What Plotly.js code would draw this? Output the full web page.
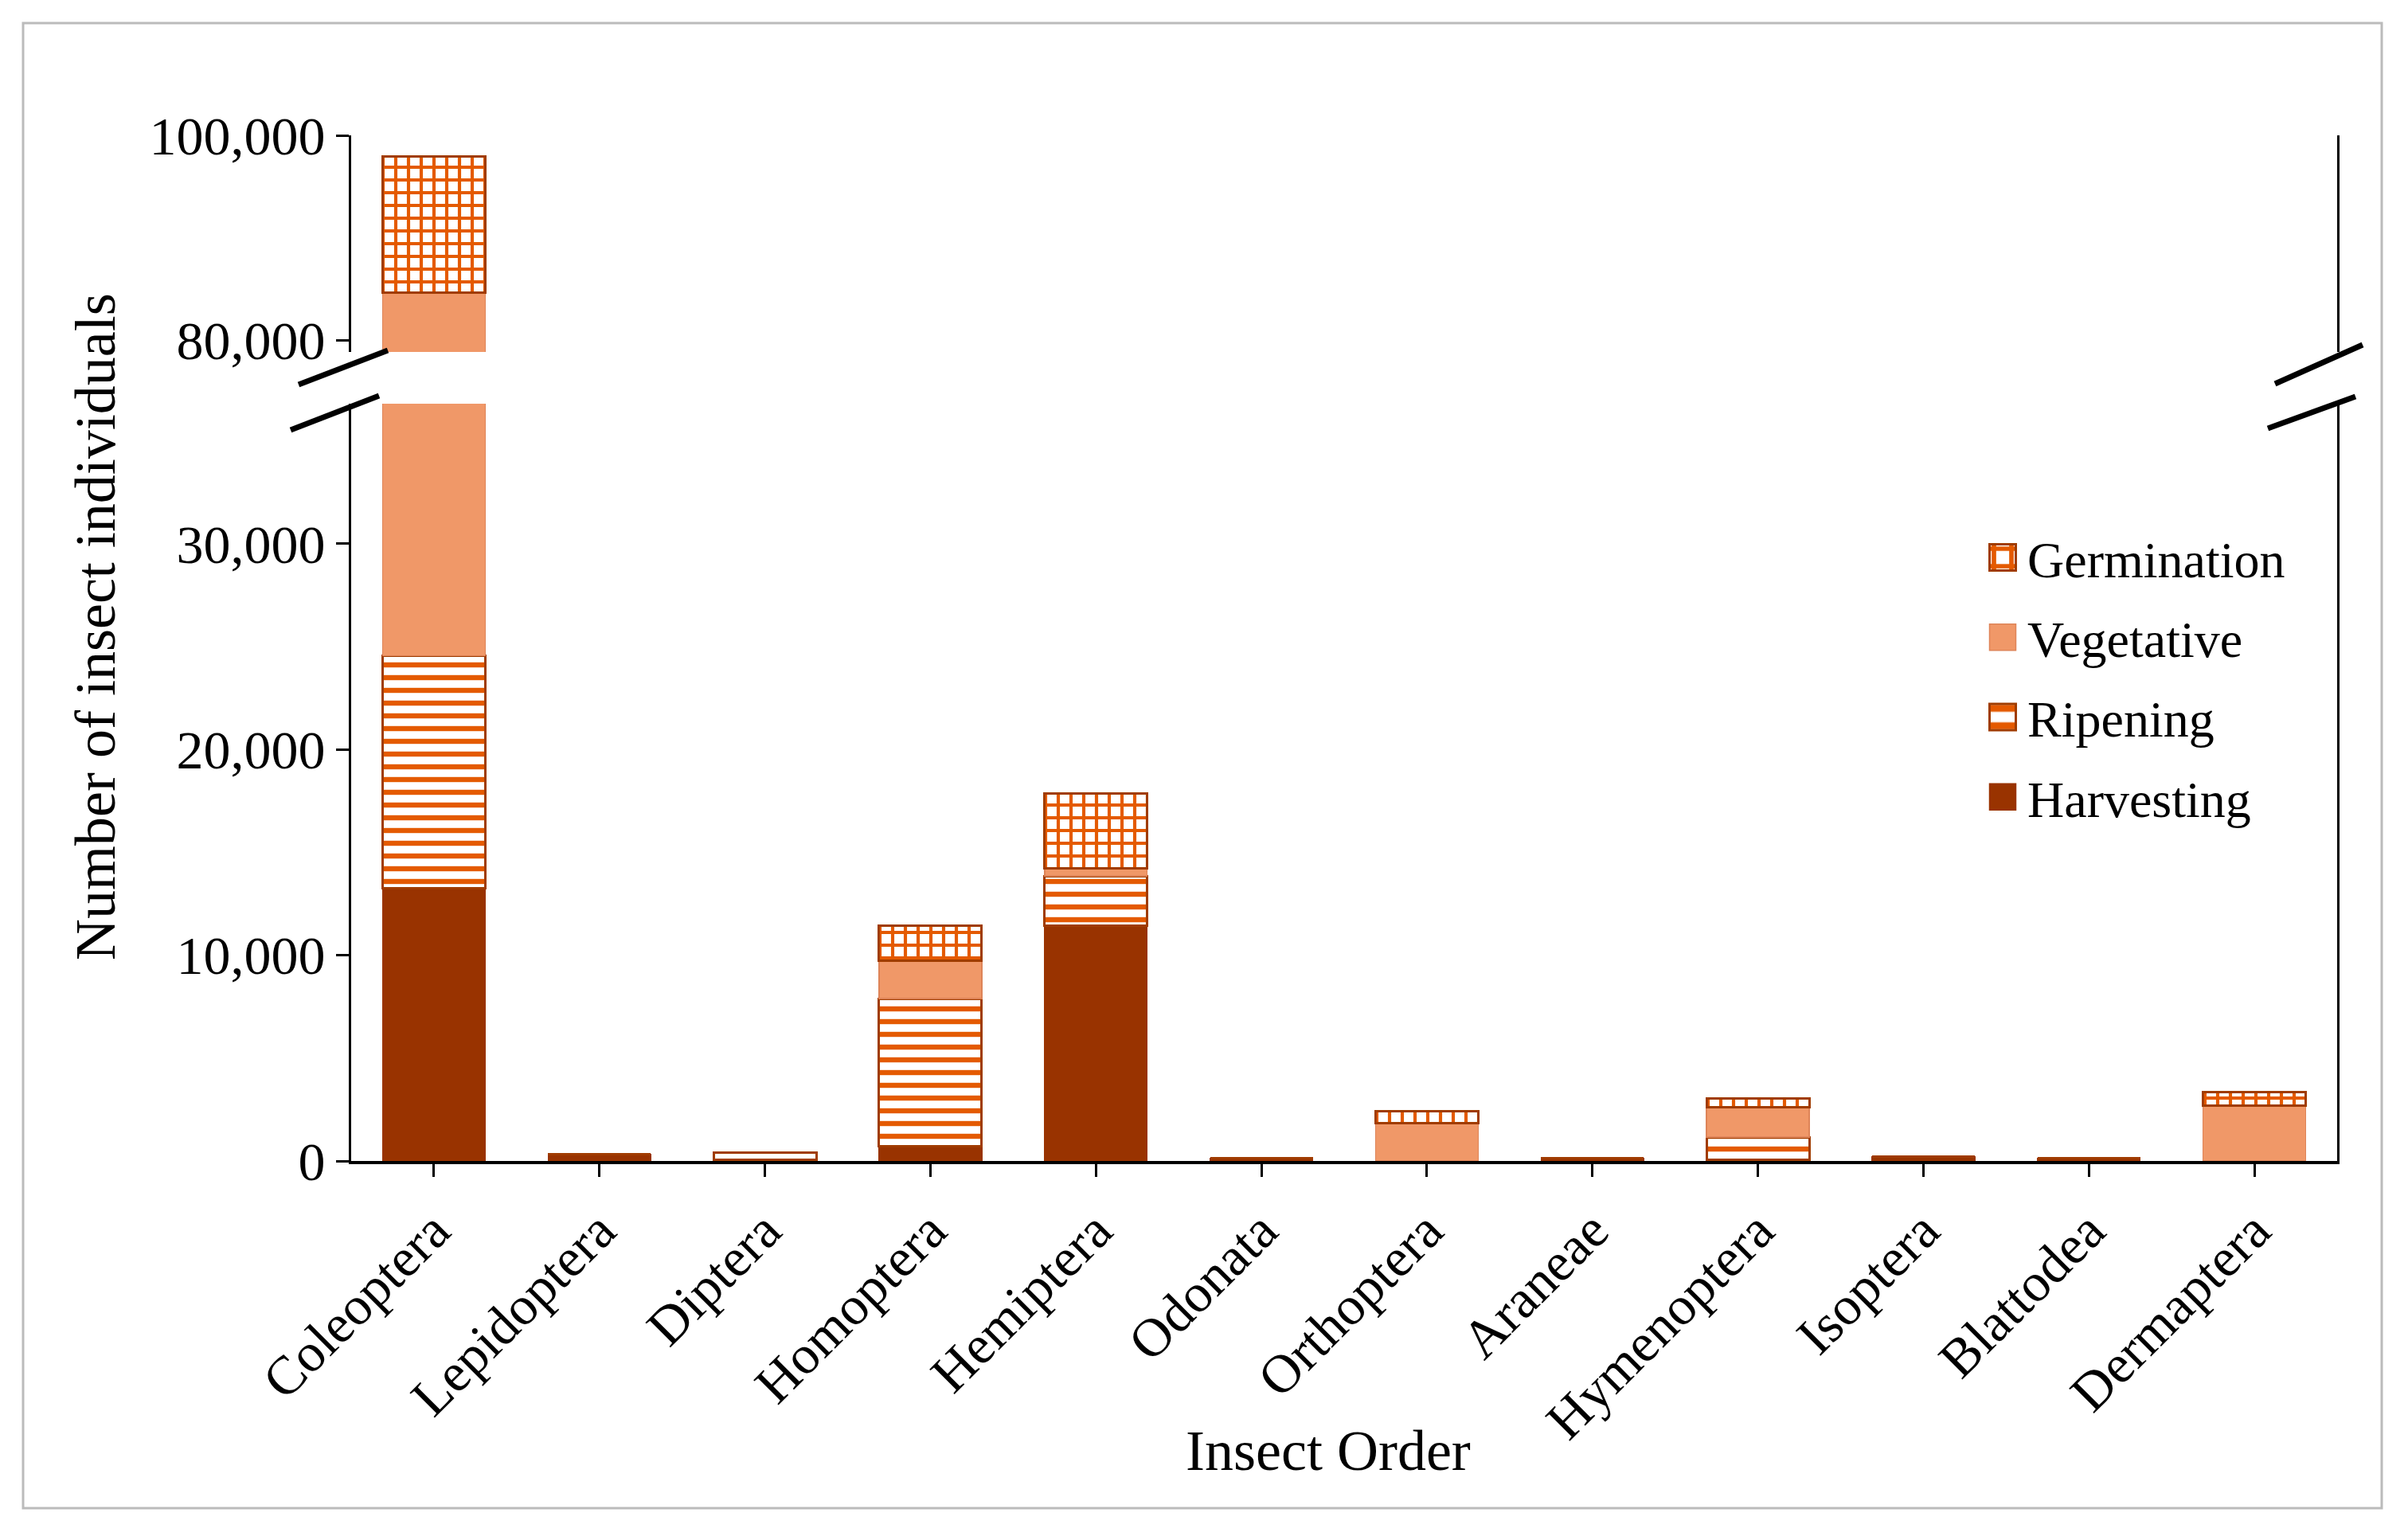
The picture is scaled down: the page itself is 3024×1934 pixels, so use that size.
<!DOCTYPE html>
<html>
<head>
<meta charset="utf-8">
<script src="https://cdn.plot.ly/plotly-3.0.1.min.js"></script>
<style>
  html, body { margin: 0; padding: 0; background: #ffffff; }
  #chart { width: 3024px; height: 1934px; }
</style>
</head>
<body>
<div id="chart"></div>
<script>
// ---- Data ----
const categories = ["Coleoptera", "Lepidoptera", "Diptera", "Homoptera", "Hemiptera", "Odonata",
                    "Orthoptera", "Araneae", "Hymenoptera", "Isoptera", "Blattodea", "Dermaptera"];
const harvesting  = [13250, 330,  60,  720, 11450, 120,    0, 130,   40, 220, 130,    0];
const ripening    = [11300,   0, 360, 7170,  2400,   0,    0,   0, 1120,   0,   0,    0];
const vegetative  = [60100,   0,   0, 1850,   380,   0, 1850,   0, 1460,   0,   0, 2700];
const germination = [13250,   0,   0, 1700,  3620,   0,  560,   0,  420,   0,   0,  650];

const seriesNames = ["Harvesting", "Ripening", "Vegetative", "Germination"];
const seriesData  = [harvesting, ripening, vegetative, germination];
const legendRanks = [4, 3, 2, 1];   // legend shows Germination on top

// broken axis ranges
const lowerRange = [0, 36800];
const upperRange = [78833, 100000];
const lowerTicks = [0, 10000, 20000, 30000];
const upperTicks = [80000, 100000];

// ---- Styles ----
const BROWN = "#993300";
const DARK_EDGE = "#A03C00";
const ORANGE_LINE = "#E45A00";
const VEG = "#F09868";
const VEG_EDGE = "#DE8458";

const styles = {
  "Harvesting":  { color: BROWN, line: { color: BROWN, width: 1.5 } },
  "Ripening":    { color: ORANGE_LINE, line: { color: DARK_EDGE, width: 3 },
                   pattern: { shape: "-", fgcolor: ORANGE_LINE, bgcolor: "#ffffff", size: 16, solidity: 0.4, fillmode: "replace" } },
  "Vegetative":  { color: VEG, line: { color: VEG_EDGE, width: 1.5 } },
  "Germination": { color: ORANGE_LINE, line: { color: DARK_EDGE, width: 3 },
                   pattern: { shape: "+", fgcolor: ORANGE_LINE, bgcolor: "#ffffff", size: 16, solidity: 0.45, fillmode: "replace" } }
};

const traces = [];
["y", "y2"].forEach(function (ax) {
  seriesNames.forEach(function (name, i) {
    const st = styles[name];
    const marker = { color: st.color, line: st.line };
    if (st.pattern) marker.pattern = st.pattern;
    traces.push({
      type: "bar",
      name: name,
      x: categories,
      y: seriesData[i],
      xaxis: "x",
      yaxis: ax,
      marker: marker,
      legendgroup: name,
      legendrank: legendRanks[i],
      showlegend: ax === "y",
      hoverinfo: "skip"
    });
  });
});

// ---- Layout geometry (pixels) ----
const W = 3024, H = 1934;
const L = 441, R = 2935, T = 170, B = 1458;
const pw = R - L, ph = B - T;
function px(X) { return (X - L) / pw; }
function py(Y) { return (B - Y) / ph; }

const FONT = "Liberation Serif, Times New Roman, serif";

function slash(x0, y0, x1, y1) {
  return { type: "line", xref: "paper", yref: "paper",
           x0: px(x0), y0: py(y0), x1: px(x1), y1: py(y1),
           line: { color: "#000000", width: 7 } };
}

const layout = {
  width: W, height: H,
  margin: { l: L, r: W - R, t: T, b: H - B, pad: 0 },
  paper_bgcolor: "#ffffff",
  plot_bgcolor: "rgba(0,0,0,0)",
  barmode: "stack",
  bargap: 0.38,
  font: { family: FONT, size: 68, color: "#000000" },
  showlegend: true,
  legend: {
    x: px(2491), y: py(652), xanchor: "left", yanchor: "top",
    traceorder: "grouped", tracegroupgap: 14,
    font: { family: FONT, size: 64, color: "#000000" },
    bgcolor: "rgba(0,0,0,0)", itemwidth: 45
  },
  xaxis: {
    anchor: "y",
    domain: [0, 1],
    type: "category",
    range: [-0.5, categories.length - 0.5],
    showline: true, linecolor: "#000000", linewidth: 4,
    ticks: "outside", ticklen: 16, tickwidth: 3, tickcolor: "#000000",
    tickangle: -45,
    tickfont: { family: FONT, size: 68, color: "#000000" },
    showgrid: false, zeroline: false,
    title: { text: "" }
  },
  yaxis: {
    domain: [0, py(507)],
    anchor: "x",
    range: lowerRange,
    tickvals: lowerTicks,
    tickformat: ",d",
    showline: true, mirror: true, linecolor: "#000000", linewidth: 3,
    ticks: "outside", ticklen: 16, tickwidth: 3, tickcolor: "#000000",
    tickfont: { family: FONT, size: 68, color: "#000000" },
    showgrid: false, zeroline: false
  },
  yaxis2: {
    domain: [py(442), 1],
    anchor: "x",
    range: upperRange,
    tickvals: upperTicks,
    tickformat: ",d",
    showline: true, mirror: true, linecolor: "#000000", linewidth: 3,
    ticks: "outside", ticklen: 16, tickwidth: 3, tickcolor: "#000000",
    tickfont: { family: FONT, size: 68, color: "#000000" },
    showgrid: false, zeroline: false
  },
  annotations: [
    {
      text: "Number of insect individuals",
      xref: "paper", yref: "paper",
      x: px(120), y: py(787),
      xanchor: "center", yanchor: "middle",
      textangle: -90, showarrow: false,
      font: { family: FONT, size: 72, color: "#000000" }
    },
    {
      text: "Insect Order",
      xref: "paper", yref: "paper",
      x: px(1668), y: py(1822),
      xanchor: "center", yanchor: "middle",
      showarrow: false,
      font: { family: FONT, size: 72, color: "#000000" }
    }
  ],
  shapes: [
    // outer frame
    { type: "rect", xref: "paper", yref: "paper",
      x0: px(29), y0: py(1894), x1: px(2991), y1: py(29),
      line: { color: "#BBBBBB", width: 3 }, fillcolor: "rgba(0,0,0,0)", layer: "below" },
    // axis break marks
    slash(375, 483, 487, 440),
    slash(365, 540, 476, 497),
    slash(2857, 482, 2967, 433),
    slash(2848, 538, 2958, 498)
  ]
};

Plotly.newPlot("chart", traces, layout, { staticPlot: true, displayModeBar: false }).then(function (gd) {
  // enlarge the legend swatches to match the reference's square keys
  gd.querySelectorAll(".legend .legendpoints path").forEach(function (p) {
    p.setAttribute("transform", "translate(24,0) scale(2.75)");
    p.style.vectorEffect = "non-scaling-stroke";
  });
});
</script>
</body>
</html>
